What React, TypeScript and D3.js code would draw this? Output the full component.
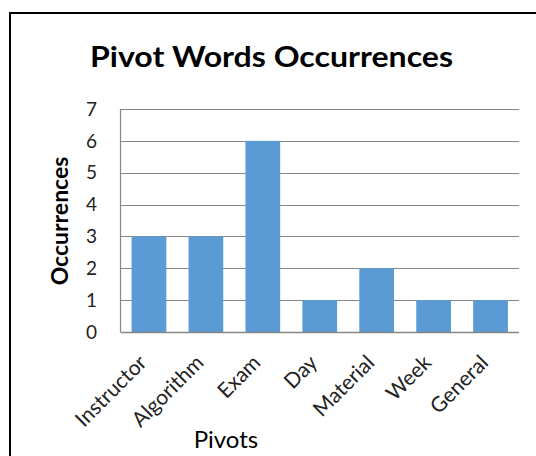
import React from "react";
import * as d3 from "d3";

const categories = ["Instructor", "Algorithm", "Exam", "Day", "Material", "Week", "General"];
const values = [3, 3, 6, 1, 2, 1, 1];
const yTicks = [0, 1, 2, 3, 4, 5, 6, 7];
const title = "Pivot Words Occurrences";
const xTitle = "Pivots";
const yTitle = "Occurrences";

export default function App() {
  const W = 536, H = 456;
  const left = 120.5, right = 519, top = 109, bottom = 332;
  const x = d3.scaleBand<string>().domain(categories).range([left, right]).paddingInner(0.39).paddingOuter(0.195);
  const y = d3.scaleLinear().domain([0, 7]).range([bottom, top]);
  const font = "Lato, 'Open Sans', sans-serif";
  return (
    <svg width={W} height={H} style={{ position: "absolute", left: 0, top: 0, background: "#fff" }}>
      <rect x={0} y={0} width={W} height={H} fill="#fff" />
      <line x1={10} x2={W} y1={13} y2={13} stroke="#000" strokeWidth={2} />
      <line x1={10} x2={10} y1={12} y2={H} stroke="#000" strokeWidth={2} />
      <text x={90} y={67} textLength={363} lengthAdjust="spacingAndGlyphs" fontFamily={font} fontWeight="bold" fontSize={29} fill="#000">{title}</text>
      {yTicks.map((t) => (
        <g key={t}>
          {t > 0 && (
            <line x1={left} x2={right} y1={Math.round(y(t)) + 0.5} y2={Math.round(y(t)) + 0.5} stroke="#868686" strokeWidth={1.2} />
          )}
          <text x={97} y={y(t)} dy="0.35em" textAnchor="end" fontFamily={font} fontSize={19} fill="#222">{t}</text>
        </g>
      ))}
      {categories.map((c, i) => (
        <rect key={c} x={x(c)} y={y(values[i])} width={x.bandwidth()} height={y(0) - y(values[i])} fill="#5B9BD5" />
      ))}
      <line x1={left} x2={left} y1={top} y2={bottom} stroke="#868686" strokeWidth={1.2} />
      <line x1={left} x2={right} y1={bottom + 0.5} y2={bottom + 0.5} stroke="#868686" strokeWidth={1.5} />
      {categories.map((c) => {
        const cx = (x(c) as number) + x.bandwidth() / 2;
        const ax = cx - 1;
        const ty = 364;
        return (
          <text key={c} x={ax} y={ty} transform={`rotate(-45 ${ax} ${ty})`} textAnchor="end" fontFamily={font} fontSize={21} fill="#222">{c}</text>
        );
      })}
      <text x={226} y={448} textAnchor="middle" fontFamily={font} fontSize={24} fill="#000">{xTitle}</text>
      <text x={0} y={0} transform={`translate(68 221) rotate(-90)`} textAnchor="middle" fontFamily={font} fontWeight="bold" fontSize={23} fill="#000">{yTitle}</text>
    </svg>
  );
}
